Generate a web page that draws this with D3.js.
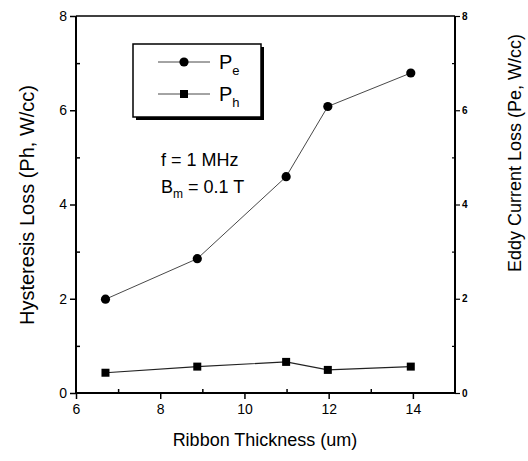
<!DOCTYPE html>
<html><head><meta charset="utf-8">
<script src="https://cdn.jsdelivr.net/npm/d3@7"></script>
<style>body{margin:0;background:#fff}svg{display:block}text{font-family:Arial,"Liberation Sans",sans-serif}</style>
</head><body><svg id="c" width="528" height="461"></svg>
<script>
const thickness = [6.7, 8.88, 10.99, 11.98, 13.95];
const pe = [1.99, 2.85, 4.59, 6.08, 6.79];
const ph = [0.43, 0.56, 0.66, 0.49, 0.56];
const xTicks = [6, 8, 10, 12, 14];
const yTicks = [0, 2, 4, 6, 8];
const xMinor = [7, 9, 11, 13];
const yMinor = [1, 3, 5, 7];

const svg = d3.select("#c");
const L = 76, R = 455, T = 16, B = 393;
const x = d3.scaleLinear().domain([6, 15]).range([L, R]);
const y = d3.scaleLinear().domain([0, 8]).range([B, T]);
const y2 = d3.scaleLinear().domain([0, 8]).range([B, T]);

// frame lines
const g = svg.append("g").attr("stroke", "#000");
g.append("line").attr("x1", L).attr("x2", R).attr("y1", T).attr("y2", T).attr("stroke-width", 1.5);
g.append("line").attr("x1", L).attr("x2", R).attr("y1", B).attr("y2", B).attr("stroke-width", 2);
g.append("line").attr("x1", L).attr("x2", L).attr("y1", T).attr("y2", B).attr("stroke-width", 2);
g.append("line").attr("x1", R).attr("x2", R).attr("y1", T).attr("y2", B).attr("stroke-width", 2);

// bottom axis
const xAx = svg.append("g").attr("transform", `translate(0,${B})`)
  .call(d3.axisBottom(x).tickValues(xTicks).tickSize(6).tickSizeOuter(0).tickFormat(d3.format("d")));
xAx.select(".domain").remove();
xAx.selectAll("line").attr("stroke-width", 1.5);
xAx.selectAll("text").attr("font-size", 14).attr("dy", "0.85em");
svg.append("g").attr("transform", `translate(0,${B})`)
  .call(d3.axisTop(x).tickValues(xMinor).tickSize(4).tickFormat(""))
  .call(s => { s.select(".domain").remove(); s.selectAll("line").attr("stroke-width", 1.5); });

// left axis
const yAx = svg.append("g").attr("transform", `translate(${L},0)`)
  .call(d3.axisLeft(y).tickValues(yTicks).tickSize(6).tickSizeOuter(0).tickFormat(d3.format("d")));
yAx.select(".domain").remove();
yAx.selectAll("line").attr("stroke-width", 1.5);
yAx.selectAll("text").attr("font-size", 14);
svg.append("g").attr("transform", `translate(${L},0)`)
  .call(d3.axisRight(y).tickValues(yMinor).tickSize(4).tickFormat(""))
  .call(s => { s.select(".domain").remove(); s.selectAll("line").attr("stroke-width", 1.5); });

// right axis
const y2Ax = svg.append("g").attr("transform", `translate(${R},0)`)
  .call(d3.axisRight(y2).tickValues(yTicks).tickSize(5).tickSizeOuter(0).tickFormat(d3.format("d")));
y2Ax.select(".domain").remove();
y2Ax.selectAll("line").attr("stroke-width", 1.2);
y2Ax.selectAll("text").attr("font-size", 10).attr("font-weight", "bold").attr("x", 7);
svg.append("g").attr("transform", `translate(${R},0)`)
  .call(d3.axisLeft(y2).tickValues(yMinor).tickSize(3).tickFormat(""))
  .call(s => { s.select(".domain").remove(); s.selectAll("line").attr("stroke-width", 1.2); });

// series lines
const linePe = d3.line().x((d, i) => x(thickness[i])).y(d => y2(d));
const linePh = d3.line().x((d, i) => x(thickness[i])).y(d => y(d));
svg.append("path").attr("d", linePe(pe)).attr("fill", "none").attr("stroke", "#333").attr("stroke-width", 0.9);
svg.append("path").attr("d", linePh(ph)).attr("fill", "none").attr("stroke", "#222").attr("stroke-width", 1.1);
svg.selectAll("circle.pe").data(pe).enter().append("circle")
  .attr("cx", (d, i) => x(thickness[i])).attr("cy", d => y2(d)).attr("r", 4.6).attr("fill", "#000");
svg.selectAll("rect.ph").data(ph).enter().append("rect")
  .attr("x", (d, i) => x(thickness[i]) - 4).attr("y", d => y(d) - 4).attr("width", 8).attr("height", 8).attr("fill", "#000");

// legend
const lg = svg.append("g");
lg.append("rect").attr("x", 136).attr("y", 47).attr("width", 128).attr("height", 73).attr("fill", "#000");
lg.append("rect").attr("x", 133).attr("y", 44).attr("width", 128).attr("height", 73).attr("fill", "#fff").attr("stroke", "#000").attr("stroke-width", 1.5);
lg.append("line").attr("x1", 158).attr("x2", 210).attr("y1", 62).attr("y2", 62).attr("stroke", "#333").attr("stroke-width", 0.9);
lg.append("circle").attr("cx", 184).attr("cy", 62).attr("r", 4.6).attr("fill", "#000");
lg.append("line").attr("x1", 158).attr("x2", 210).attr("y1", 94).attr("y2", 94).attr("stroke", "#333").attr("stroke-width", 0.9);
lg.append("rect").attr("x", 180).attr("y", 90).attr("width", 8).attr("height", 8).attr("fill", "#000");
const t1 = lg.append("text").attr("x", 219).attr("y", 69).attr("font-size", 20);
t1.append("tspan").text("P");
t1.append("tspan").text("e").attr("font-size", 13).attr("dy", 6);
const t2 = lg.append("text").attr("x", 219).attr("y", 101).attr("font-size", 20);
t2.append("tspan").text("P");
t2.append("tspan").text("h").attr("font-size", 13).attr("dy", 6);

// annotations
svg.append("text").attr("x", 161).attr("y", 166).attr("font-size", 18).text("f = 1 MHz");
const bm = svg.append("text").attr("x", 161).attr("y", 193).attr("font-size", 18);
bm.append("tspan").text("B");
bm.append("tspan").text("m").attr("font-size", 12).attr("dy", 5);
bm.append("tspan").text(" = 0.1 T").attr("dy", -5);

// axis titles
svg.append("text").attr("transform", "translate(34,205) rotate(-90)").attr("text-anchor", "middle")
  .attr("font-size", 20).text("Hysteresis Loss (Ph, W/cc)");
svg.append("text").attr("transform", "translate(521,153) rotate(-90)").attr("text-anchor", "middle")
  .attr("font-size", 18).text("Eddy Current Loss (Pe, W/cc)");
svg.append("text").attr("x", 265).attr("y", 446).attr("text-anchor", "middle")
  .attr("font-size", 18).text("Ribbon Thickness (um)");
</script></body></html>
